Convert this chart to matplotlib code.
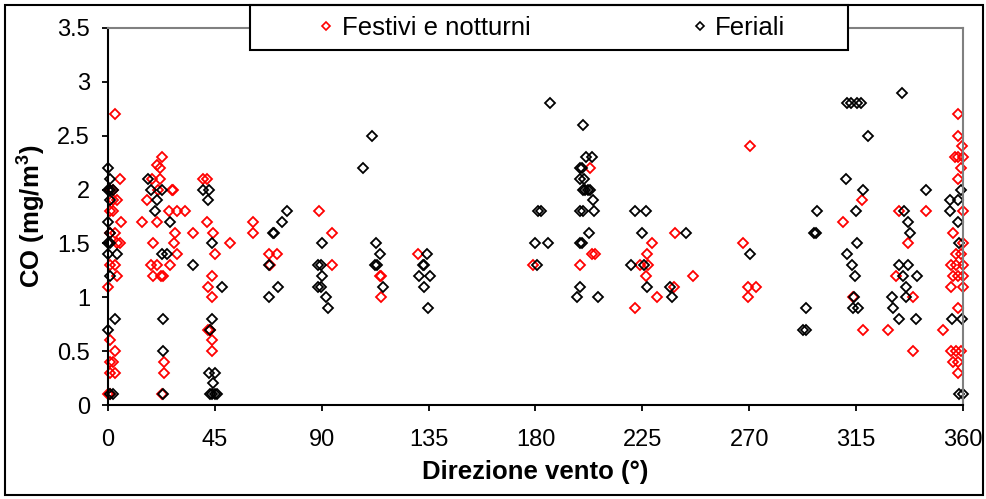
import numpy as np
import matplotlib.pyplot as plt
from matplotlib.lines import Line2D
from matplotlib.patches import Rectangle

plt.rcParams['font.family'] = ['Liberation Sans', 'DejaVu Sans']
plt.rcParams['mathtext.fontset'] = 'custom'
plt.rcParams['mathtext.bf'] = 'Liberation Sans:bold'
plt.rcParams['mathtext.rm'] = 'Liberation Sans'

# Festivi e notturni (red)
fest_dir = [3, 5, 2, 1, 2, 4, 1, 2, 5.5, 1, 3, 4, 5, 1, 3, 4, 0, 1, 3, 1, 2, 1, 3, 0, 1,
            22.6, 20.5, 22, 22, 18.4, 21, 26.8, 27.5, 16.5, 25.7, 29, 32.4, 14.2, 20.5,
            28.2, 36, 28, 19, 29, 18, 20.5, 26, 19, 23, 22.5, 23.5, 23.5, 22.6,
            40, 41.5, 41.5, 44.4, 45, 51.4, 43.7, 42, 44, 43, 42, 43.7, 43.7,
            61.2, 61.2, 67.9, 71.3, 68.4,
            89, 94.2, 94.2,
            114.5, 115, 115, 130.4, 179.1,
            203, 204, 205, 198.6,
            228.9, 227.1, 224, 227.5, 226.4, 231.3, 221.9, 238.5, 238.7, 246.4,
            270.3, 267.5, 269.3, 272.8, 269.3,
            309.6, 317.3, 313.8, 318,
            333.2, 344.4, 337, 332, 339, 328.6, 339, 351.7,
            357.8, 357.7, 359.4, 356.6, 358, 360, 359, 358, 360, 356, 360, 357, 359,
            355, 357, 360, 356, 358, 360, 355, 360, 358, 355, 357, 359, 356, 358, 358]
fest_co = [2.7, 2.1, 2.0, 2.0, 1.9, 1.9, 1.8, 1.8, 1.7, 1.6, 1.6, 1.5, 1.5, 1.3, 1.3, 1.2, 1.1,
           0.6, 0.5, 0.4, 0.4, 0.3, 0.3, 0.1, 0.1,
           2.3, 2.23, 2.2, 2.1, 2.1, 2.0, 2.0, 2.0, 1.9, 1.8, 1.8, 1.8, 1.7, 1.7,
           1.6, 1.6, 1.5, 1.5, 1.4, 1.3, 1.3, 1.3, 1.2, 1.2, 1.2, 0.4, 0.3, 0.1,
           2.1, 2.1, 1.7, 1.6, 1.4, 1.5, 1.2, 1.1, 1.0, 0.7, 0.7, 0.6, 0.5,
           1.7, 1.6, 1.4, 1.4, 1.3,
           1.8, 1.6, 1.3,
           1.2, 1.2, 1.0, 1.4, 1.3,
           2.2, 1.4, 1.4, 1.3,
           1.5, 1.4, 1.3, 1.3, 1.2, 1.0, 0.9, 1.1, 1.6, 1.2,
           2.4, 1.5, 1.1, 1.1, 1.0,
           1.7, 1.9, 1.0, 0.7,
           1.8, 1.8, 1.5, 1.2, 1.0, 0.7, 0.5, 0.7,
           2.7, 2.5, 2.4, 2.3, 2.3, 2.3, 2.2, 2.1, 1.8, 1.6, 1.5, 1.4, 1.4,
           1.3, 1.3, 1.3, 1.2, 1.2, 1.2, 1.1, 1.1, 0.9, 0.5, 0.5, 0.5, 0.4, 0.4, 0.3]

# Feriali (black)
fer_dir = [0, 1, 0, 1, 2, 1, 0, 1, 0, 1, 0, 4, 1, 3, 0, 1, 2,
           17, 18, 22.6, 20.5, 19.8, 26, 22.6, 25, 36, 23.3, 23.3, 23.3,
           40, 42.6, 42, 44, 48, 43.7, 43, 42.5, 45, 44.4, 43, 44, 45, 46,
           75.5, 73.1, 69.3, 70, 67.7, 71.4, 68,
           90, 88.6, 89.5, 90, 88.6, 89.5, 91.8, 92.5,
           107.5, 111, 112.7, 114.5, 113.2, 112.5, 115.9,
           134.2, 132.6, 133.2, 131, 135.6, 133, 134.6,
           186.1, 181.2, 182.5, 179.8, 185.1, 180.5,
           200.1, 201.3, 203.7, 198.7, 199.5, 198.7, 200.5, 200, 201, 202, 203, 204.3,
           198.7, 200, 204.8, 198.7, 199.5, 202.7, 198.6, 197.6, 206.2,
           221.9, 226.4, 224.7, 220.2, 225.7, 227, 236.6, 237.3, 243.4,
           270.3,
           293.9, 292.8, 294, 298.7, 297.2, 298.3,
           311, 313, 315.4, 317, 320, 310.6, 318, 314.8, 315.5, 311.3, 313.3, 314.5,
           314, 313.8, 316,
           334.2, 344.4, 335, 337, 337.7, 333.2, 337, 334.7, 340.5, 336, 336, 330,
           330.7, 333.2, 340.2,
           359, 354.5, 358, 354.5, 358, 358.5, 355.2, 359.4, 358.5, 360]
fer_co = [2.2, 2.1, 2.0, 2.0, 2.0, 1.9, 1.7, 1.6, 1.5, 1.5, 1.4, 1.4, 1.2, 0.8, 0.7, 0.1, 0.1,
          2.1, 2.0, 2.0, 1.9, 1.8, 1.7, 1.4, 1.4, 1.3, 0.8, 0.5, 0.1,
          2.0, 2.0, 1.9, 1.5, 1.1, 0.8, 0.7, 0.3, 0.3, 0.2, 0.1, 0.1, 0.1, 0.1,
          1.8, 1.7, 1.6, 1.6, 1.3, 1.1, 1.0,
          1.5, 1.3, 1.3, 1.2, 1.1, 1.1, 1.0, 0.9,
          2.2, 2.5, 1.5, 1.4, 1.3, 1.3, 1.1,
          1.4, 1.3, 1.3, 1.2, 1.2, 1.1, 0.9,
          2.8, 1.8, 1.8, 1.5, 1.5, 1.3,
          2.6, 2.3, 2.3, 2.2, 2.2, 2.1, 2.1, 2.0, 2.0, 2.0, 2.0, 1.9,
          1.8, 1.8, 1.8, 1.5, 1.5, 1.6, 1.1, 1.0, 1.0,
          1.8, 1.8, 1.6, 1.3, 1.3, 1.1, 1.1, 1.0, 1.6,
          1.4,
          0.9, 0.7, 0.7, 1.8, 1.6, 1.6,
          2.8, 2.8, 2.8, 2.8, 2.5, 2.1, 2.0, 1.8, 1.5, 1.4, 1.3, 1.2,
          1.0, 0.9, 0.9,
          2.9, 2.0, 1.8, 1.7, 1.6, 1.3, 1.3, 1.2, 1.2, 1.1, 1.0, 1.0,
          0.9, 0.8, 0.8,
          2.0, 1.9, 1.9, 1.8, 1.7, 1.5, 0.8, 0.8, 0.1, 0.1]

series_names = ['Festivi e notturni', 'Feriali']
series_colors = ['#FF0000', '#000000']

fig = plt.figure(figsize=(9.87, 4.99), dpi=100)
ax = fig.add_axes([108 / 987, 1 - 405 / 499, 855 / 987, 377 / 499])

for xs, ys, c in [(fest_dir, fest_co, series_colors[0]), (fer_dir, fer_co, series_colors[1])]:
    ax.plot(xs, ys, linestyle='none', marker='D', markersize=4.8,
            markerfacecolor='none', markeredgecolor=c, markeredgewidth=1.3, clip_on=False)

ax.set_xlim(0, 360)
ax.set_ylim(0, 3.5)
ax.set_xticks(np.arange(0, 361, 45))
ax.set_yticks(np.arange(0, 3.51, 0.5))
ax.set_yticklabels(['%g' % v for v in np.arange(0, 3.51, 0.5)])
ax.tick_params(direction='out', length=4, width=1.3, labelsize=17)
ax.tick_params(axis='y', pad=9)
ax.tick_params(axis='x', pad=13)

for s in ['left', 'bottom']:
    ax.spines[s].set_linewidth(1.5)
    ax.spines[s].set_color('black')
for s in ['right', 'top']:
    ax.spines[s].set_linewidth(1.5)
    ax.spines[s].set_color('#808080')

ax.set_xlabel('Direzione vento (°)', fontsize=18.5, fontweight='bold', labelpad=7)
ax.set_ylabel(r'CO (mg/m$^\mathbf{3}$)', fontsize=18.5, fontweight='bold', labelpad=7)

# legend box and outer frame
fig.patches.append(Rectangle((250 / 987, 1 - 50 / 499), 598 / 987, 45 / 499,
                             transform=fig.transFigure, facecolor='white',
                             edgecolor='black', linewidth=1.5, zorder=2))
fig.patches.append(Rectangle((5 / 987, 4 / 499), 978 / 987, 490 / 499,
                             transform=fig.transFigure, facecolor='none',
                             edgecolor='black', linewidth=1.5, zorder=2))

handles = [Line2D([], [], linestyle='none', marker='D', markersize=3.6, markerfacecolor='none',
                  markeredgecolor=c, markeredgewidth=1.2) for c in series_colors]
fig.legend(handles, series_names, loc='center', bbox_to_anchor=(552 / 987, 1 - 28 / 499),
           ncol=2, frameon=False, fontsize=18.5, handlelength=0.6, handletextpad=0.3,
           columnspacing=6.3)

fig.savefig('out.png', dpi=100)
